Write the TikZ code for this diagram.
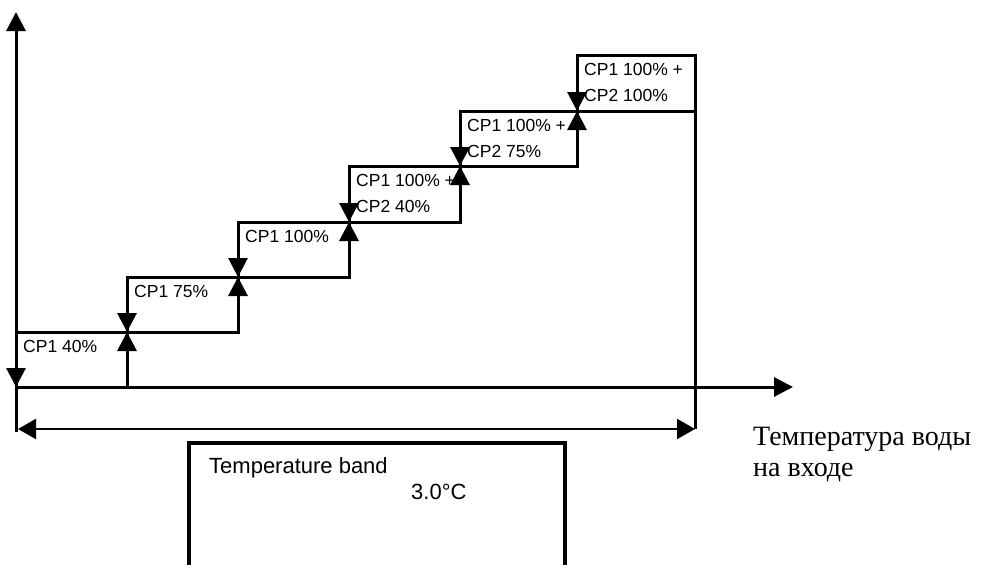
\documentclass[tikz,border=0pt]{standalone}
\usepackage{fontspec}
\setmainfont{Liberation Serif}
\setsansfont{Liberation Sans}
\usetikzlibrary{positioning, arrows.meta, calc}

\begin{document}
\begin{tikzpicture}[
  x=1pt, y=-1pt,
  stair/.style={line width=3pt},
  tip/.style={line width=3pt, -{Triangle[length=19pt, width=19pt]}},
  span/.style={line width=2pt,
               {Triangle[length=18pt, width=20pt]}-{Triangle[length=18pt, width=20pt]}},
  pct/.style={anchor=north west, inner sep=0pt, align=left,
              font=\sffamily\fontsize{17.5}{26.5}\selectfont},
  note/.style={anchor=north west, inner sep=0pt,
               font=\sffamily\fontsize{22}{25}\selectfont}
]
\useasboundingbox (0,0) rectangle (986,565);

\foreach \i/\x in {0/16, 1/127, 2/238, 3/349, 4/460, 5/577, 6/695}
  \coordinate (x\i) at (\x,0);
\foreach \i/\y in {0/387, 1/332, 2/277, 3/222, 4/166, 5/111, 6/55}
  \coordinate (l\i) at (0,\y);
\coordinate (ytop) at (16,12);
\coordinate (ybot) at (16,432);
\coordinate (xend) at (793,387);
\coordinate (bandl) at (18,429);
\coordinate (bandr) at (695,429);

\foreach \i/\j/\t in {1/0/{CP1 40\%}, 2/1/{CP1 75\%}, 3/2/{CP1 100\%},
                      4/3/{CP1 100\% +\\CP2 40\%}, 5/4/{CP1 100\% +\\CP2 75\%},
                      6/5/{CP1 100\% +\\CP2 100\%}}
  \node[pct] (s\i) at ($(x\j |- l\i)+(7,8)$) {\t};

\draw[tip] (ybot) -- (ytop);
\draw[tip] (x0 |- l0) -- (xend);
\draw[stair] (x0 |- l1) -| (x2 |- l3) -| (x4 |- l5) -- (x6 |- l5);
\draw[stair] (x1 |- l0) |- (x3 |- l2) |- (x5 |- l4) |- (x6 |- l6) -- (x6 |- bandr);

\draw[tip] (x0 |- l1) -- (x0 |- l0);
\foreach \i/\lo/\hi in {1/0/2, 2/1/3, 3/2/4, 4/3/5, 5/4/6} {
  \draw[tip] (x\i |- l\lo) -- (x\i |- l\i);
  \draw[tip] (x\i |- l\hi) -- (x\i |- l\i);
}

\draw[span] (bandl) -- (bandr);

\draw[line width=3.5pt] (189,566) |- (565,443) -- (565,566);
\node[note] (bandname) at (209,457) {Temperature band};
\node[note] (bandval) at (411,484) {3.0°C};

\node[anchor=north west, inner sep=0pt, align=left,
      font=\fontsize{28}{31}\selectfont] (xlabel) at (753,427)
  {Температура воды\\на входе};
\end{tikzpicture}
\end{document}
